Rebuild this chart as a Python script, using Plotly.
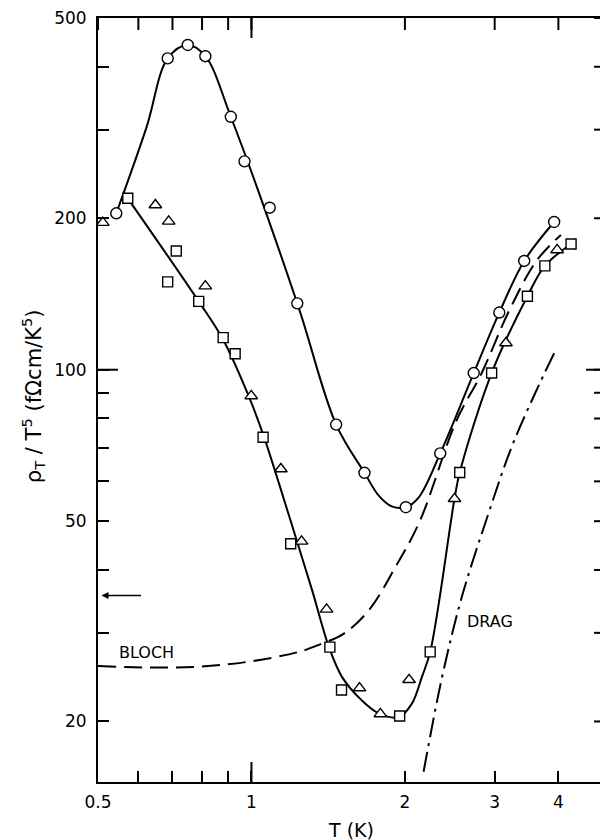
import math
import plotly.graph_objects as go

# ---- data (T in K, rho_T/T^5 in fOhm cm/K^5) ----
circle_T = [0.543, 0.685, 0.750, 0.812, 0.911, 0.969, 1.086, 1.230, 1.466, 1.666,
            2.008, 2.346, 2.729, 3.063, 3.428, 3.924]
circle_rho = [204.6, 415.6, 441.9, 419.8, 318.2, 259.5, 209.9, 135.5, 77.8, 62.4,
              53.3, 68.2, 98.5, 129.9, 164.5, 196.6]

square_T = [0.572, 0.685, 0.712, 0.788, 0.880, 0.929, 1.054, 1.194, 1.425, 1.502,
            1.953, 2.242, 2.562, 2.959, 3.478, 3.763, 4.236]
square_rho = [219.1, 149.5, 172.2, 136.7, 115.8, 107.6, 73.4, 45.1, 28.1, 23.1,
              20.5, 27.5, 62.5, 98.5, 140.0, 160.8, 177.8]

triangle_T = [0.511, 0.648, 0.688, 0.812, 0.999, 1.142, 1.254, 1.404, 1.629, 1.790,
              2.038, 2.502, 3.157, 3.978]
triangle_rho = [196.0, 212.5, 197.2, 146.6, 88.7, 63.5, 45.6, 33.4, 23.3, 20.7,
                24.2, 55.4, 113.0, 173.0]

# smooth curves drawn through the data in the reference
circle_curve_T = [0.543, 0.622, 0.685, 0.750, 0.812, 0.911, 1.230,
                  1.466, 1.666, 1.777, 1.884, 2.008, 2.127, 2.346, 2.729, 3.063, 3.428, 3.924]
circle_curve_rho = [204.6, 302.5, 415.6, 441.9, 419.8, 318.2, 135.5,
                    77.8, 62.4, 56.2, 53.5, 53.3, 55.7, 68.2, 98.5, 129.9, 164.5, 196.6]

square_curve_T = [0.572, 0.788, 0.880, 0.990, 1.059, 1.133, 1.221, 1.316, 1.419, 1.506,
                  1.648, 1.777, 1.944, 2.064, 2.159, 2.242, 2.502, 2.562, 2.959, 3.478,
                  3.763, 4.236]
square_curve_rho = [219.1, 136.7, 114.7, 88.1, 73.4, 59.3, 46.5, 36.4, 28.1, 24.5,
                    22.0, 20.75, 20.4, 21.7, 24.5, 27.5, 55.4, 62.5, 98.5, 140.0,
                    160.8, 177.8]

bloch_T = [0.5, 0.631, 0.790, 0.990, 1.239, 1.356, 1.518, 1.699, 1.915, 2.137,
           2.524, 2.829, 3.190, 3.622, 4.045]
bloch_rho = [25.78, 25.6, 25.7, 26.3, 27.5, 28.4, 29.9, 33.25, 40.5, 49.9,
             79.2, 98.5, 129.9, 164.5, 185.3]

drag_T = [2.176, 2.362, 2.585, 2.915, 3.237, 3.596, 3.929]
drag_rho = [15.89, 24.33, 35.3, 51.7, 70.1, 89.5, 108.1]

arrow_rho = 35.6

x_ticks = [0.5, 1, 2, 3, 4]
x_ticktext = ["0.5", "1", "2", "3", "4"]
x_minor = [0.6, 0.7, 0.8, 0.9]
y_ticks = [20, 50, 100, 200, 500]
y_ticktext = ["20", "50", "100", "200", "500"]
y_minor = [30, 40, 60, 70, 80, 90, 300, 400]

FONT = "DejaVu Sans"
BLACK = "black"
X_RANGE = [math.log10(0.5), math.log10(4.96)]
Y_RANGE = [math.log10(15.16), math.log10(500)]
PLOT_H = 765.0
PLOT_W = 510.0

fig = go.Figure()

def curve(x, y, dash="solid"):
    fig.add_trace(go.Scatter(x=x, y=y, mode="lines",
                             line=dict(color=BLACK, width=2, dash=dash, shape="spline", smoothing=1.0),
                             hoverinfo="skip", showlegend=False))

curve(circle_curve_T, circle_curve_rho)
curve(square_curve_T, square_curve_rho)
curve(bloch_T, bloch_rho, dash="18px,8px")
curve(drag_T, drag_rho, dash="20px,6px,3px,6px")

def pts(x, y, symbol, size):
    fig.add_trace(go.Scatter(x=x, y=y, mode="markers",
                             marker=dict(symbol=symbol, size=size, color="white",
                                         line=dict(color=BLACK, width=1.4)),
                             showlegend=False))

pts(triangle_T, triangle_rho, "triangle-up", 11)
pts(square_T, square_rho, "square", 10)
pts(circle_T, circle_rho, "circle", 11)

axis_common = dict(
    type="log", showgrid=False, zeroline=False,
    showline=True, linecolor=BLACK, linewidth=2, mirror=True,
    ticks="inside", ticklen=11, tickwidth=1.5, tickcolor=BLACK,
    tickfont=dict(family=FONT, size=17, color=BLACK),
    ticklabeloverflow="allow",
)
minor_x = dict(tickmode="array", tickvals=x_minor, ticks="inside",
               ticklen=11, tickwidth=1.5, tickcolor=BLACK)
minor_y = dict(tickmode="array", tickvals=y_minor, ticks="inside",
               ticklen=11, tickwidth=1.5, tickcolor=BLACK)

# the page body has an 8px margin, so the figure is drawn 8px in from the top-left
fig.update_layout(
    width=600, height=832,
    margin=dict(l=90, r=0, t=9, b=58),
    paper_bgcolor="white", plot_bgcolor="white",
    xaxis=dict(range=X_RANGE, tickmode="array", tickvals=x_ticks, ticktext=x_ticktext,
               minor=minor_x, ticklabelstandoff=4, **axis_common),
    yaxis=dict(range=Y_RANGE, tickmode="array", tickvals=y_ticks, ticktext=y_ticktext,
               minor=minor_y, ticklabelstandoff=6, **axis_common),
    showlegend=False,
)

tick_line = dict(color=BLACK, width=2)

# inward ticks along the top frame
for t in x_ticks + x_minor:
    fig.add_shape(type="line", xref="x", yref="paper", x0=t, x1=t, y0=1.0, y1=1 - 12 / PLOT_H,
                  line=tick_line, layer="above")
# inward ticks along the right frame
for v in y_ticks + y_minor:
    fig.add_shape(type="line", xref="paper", yref="y", x0=1.0, x1=1 - 12 / PLOT_W, y0=v, y1=v,
                  line=tick_line, layer="above")

# longer decade ticks at T = 1 and rho = 100
long_x = 20 / PLOT_H
long_y = 20 / PLOT_W
fig.add_shape(type="line", xref="x", yref="paper", x0=1, x1=1, y0=0, y1=long_x, line=tick_line)
fig.add_shape(type="line", xref="x", yref="paper", x0=1, x1=1, y0=1, y1=1 - long_x, line=tick_line)
fig.add_shape(type="line", xref="paper", yref="y", x0=0, x1=long_y, y0=100, y1=100, line=tick_line)
fig.add_shape(type="line", xref="paper", yref="y", x0=1, x1=1 - long_y, y0=100, y1=100, line=tick_line)

# axis titles
fig.add_annotation(xref="paper", yref="paper", x=0.498, y=-0.0627,
                   text="T (K)", showarrow=False, xanchor="center", yanchor="middle",
                   font=dict(family=FONT, size=19, color=BLACK))
fig.add_annotation(xref="paper", yref="paper", x=-0.128, y=0.505,
                   text="ρ<sub>T</sub> / T<sup>5</sup> (fΩcm/K<sup>5</sup>)",
                   textangle=-90, showarrow=False, xanchor="center", yanchor="middle",
                   font=dict(family=FONT, size=21, color=BLACK))
# cut-off "5" tick label at the right edge
fig.add_annotation(xref="paper", yref="paper", x=1.004, y=-0.0235,
                   text="5", showarrow=False, xanchor="center", yanchor="middle",
                   font=dict(family=FONT, size=17, color=BLACK))

# curve labels
fig.add_annotation(x=math.log10(0.622), y=math.log10(27.4), text="BLOCH", showarrow=False,
                   font=dict(family=FONT, size=16, color=BLACK))
fig.add_annotation(x=math.log10(2.94), y=math.log10(31.6), text="DRAG", showarrow=False,
                   font=dict(family=FONT, size=16, color=BLACK))

# arrow on the left axis
fig.add_annotation(x=math.log10(0.508), y=math.log10(arrow_rho), text="",
                   showarrow=True, arrowhead=2, arrowsize=1, arrowwidth=1.4,
                   arrowcolor=BLACK, ax=41, ay=0)

fig.write_html("out.html")
